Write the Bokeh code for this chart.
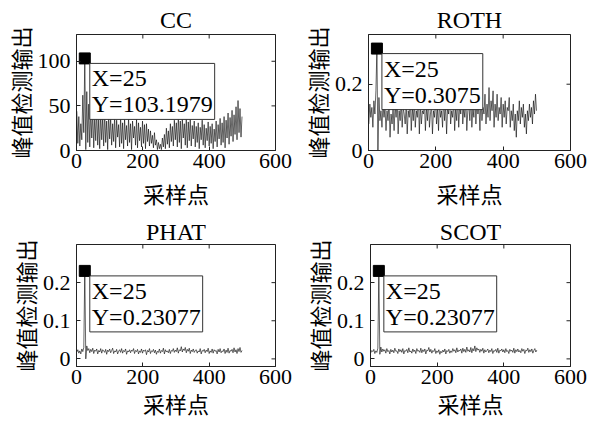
import math
from bokeh.plotting import figure
from bokeh.layouts import column, row
from bokeh.models import Range1d, Label, FixedTicker
from bokeh.embed import file_html
from bokeh.resources import INLINE

SERIF = "Liberation Serif"
CJK = "Noto Sans CJK SC"

sample_index = list(range(1, 500, 3))
panel_titles = ["CC", "ROTH", "PHAT", "SCOT"]
x_label = "采样点"
y_label = "峰值检测输出"

cc_values = [
    44, 8, 38, 5, 30, 12, 62, 20, 103.1979, 1,
    66, 9, 52, 4, 47, 14, 44, 3, 38, 11,
    46, 6, 35, 2, 41, 12, 37, 5, 43, 9,
    33, 1, 39, 13, 36, 6, 30, 10, 38, 3,
    34, 15, 29, 4, 37, 8, 31, 2, 35, 12,
    28, 5, 36, 9, 30, 1, 33, 14, 27, 6,
    35, 3, 31, 11, 26, 4, 33, 8, 29, 2,
    30, 10, 24, 5, 22, 8, 17, 3, 20, 6,
    12, 1, 9, 2, 7, 1, 14, 4, 18, 2,
    25, 7, 22, 3, 30, 10, 27, 5, 34, 12,
    31, 4, 38, 9, 33, 2, 36, 14, 30, 6,
    37, 3, 32, 11, 35, 5, 28, 13, 33, 4,
    27, 9, 31, 2, 26, 12, 34, 6, 29, 3,
    25, 11, 32, 5, 27, 8, 30, 2, 24, 10,
    33, 4, 29, 13, 36, 6, 31, 9, 38, 3,
    34, 14, 42, 7, 37, 16, 45, 10, 40, 18,
    49, 12, 56, 20, 47, 15, 38,
]
roth_values = [
    0.08, 0.14, 0.10, 0.13, 0.07, 0.15, 0.11, 0.18, 0.3075, 0.0,
    0.16, 0.09, 0.12, 0.07, 0.14, 0.10, 0.13, 0.06, 0.12, 0.09,
    0.15, 0.04, 0.11, 0.08, 0.13, 0.06, 0.14, 0.10, 0.16, 0.05,
    0.12, 0.09, 0.15, 0.07, 0.13, 0.11, 0.08, 0.14, 0.05, 0.12,
    0.10, 0.16, 0.06, 0.13, 0.09, 0.15, 0.07, 0.12, 0.10, 0.17,
    0.05, 0.14, 0.08, 0.12, 0.11, 0.15, 0.06, 0.13, 0.09, 0.16,
    0.07, 0.11, 0.14, 0.05, 0.12, 0.10, 0.17, 0.08, 0.13, 0.06,
    0.15, 0.10, 0.12, 0.07, 0.16, 0.09, 0.14, 0.05, 0.13, 0.11,
    0.17, 0.08, 0.12, 0.10, 0.15, 0.06, 0.13, 0.09, 0.16, 0.07,
    0.14, 0.11, 0.18, 0.08, 0.13, 0.10, 0.16, 0.06, 0.12, 0.14,
    0.09, 0.17, 0.07, 0.13, 0.10, 0.18, 0.08, 0.15, 0.11, 0.14,
    0.06, 0.16, 0.09, 0.13, 0.11, 0.17, 0.08, 0.14, 0.10, 0.19,
    0.09, 0.15, 0.12, 0.18, 0.07, 0.14, 0.10, 0.17, 0.09, 0.13,
    0.11, 0.16, 0.07, 0.14, 0.10, 0.15, 0.08, 0.13, 0.12, 0.16,
    0.07, 0.12, 0.09, 0.14, 0.06, 0.11, 0.04, 0.12, 0.09, 0.15,
    0.08, 0.13, 0.10, 0.14, 0.07, 0.11, 0.05, 0.12, 0.09, 0.14,
    0.10, 0.13, 0.08, 0.15, 0.11, 0.17, 0.12,
]
phat_values = [
    0.018, 0.024, 0.015, 0.021, 0.013, 0.026, 0.019, 0.030, 0.23077, 0.0,
    0.034, 0.022, 0.027, 0.016, 0.025, 0.019, 0.028, 0.014, 0.023, 0.020,
    0.026, 0.013, 0.022, 0.018, 0.027, 0.015, 0.024, 0.021, 0.017, 0.025,
    0.012, 0.023, 0.019, 0.026, 0.016, 0.022, 0.028, 0.014, 0.021, 0.018,
    0.025, 0.013, 0.020, 0.024, 0.017, 0.027, 0.015, 0.022, 0.019, 0.026,
    0.012, 0.021, 0.018, 0.024, 0.016, 0.023, 0.020, 0.027, 0.014, 0.022,
    0.019, 0.025, 0.013, 0.021, 0.017, 0.026, 0.015, 0.023, 0.020, 0.024,
    0.011, 0.022, 0.018, 0.027, 0.014, 0.021, 0.019, 0.025, 0.016, 0.023,
    0.012, 0.020, 0.017, 0.026, 0.015, 0.022, 0.019, 0.028, 0.013, 0.024,
    0.018, 0.021, 0.016, 0.025, 0.014, 0.022, 0.020, 0.027, 0.017, 0.023,
    0.019, 0.029, 0.015, 0.024, 0.021, 0.032, 0.018, 0.026, 0.022, 0.030,
    0.016, 0.025, 0.020, 0.028, 0.014, 0.023, 0.019, 0.026, 0.017, 0.022,
    0.024, 0.015, 0.021, 0.018, 0.027, 0.013, 0.022, 0.020, 0.025, 0.016,
    0.023, 0.019, 0.028, 0.014, 0.021, 0.017, 0.026, 0.015, 0.024, 0.020,
    0.022, 0.013, 0.025, 0.018, 0.027, 0.016, 0.021, 0.019, 0.026, 0.014,
    0.023, 0.017, 0.028, 0.015, 0.022, 0.020, 0.025, 0.016, 0.029, 0.018,
    0.024, 0.014, 0.027, 0.019, 0.030, 0.017, 0.022,
]
scot_values = [
    0.016, 0.022, 0.019, 0.025, 0.014, 0.021, 0.017, 0.028, 0.23077, 0.012,
    0.031, 0.018, 0.026, 0.020, 0.024, 0.015, 0.027, 0.019, 0.022, 0.013,
    0.025, 0.018, 0.023, 0.016, 0.028, 0.020, 0.021, 0.014, 0.026, 0.019,
    0.024, 0.017, 0.027, 0.013, 0.022, 0.020, 0.025, 0.016, 0.029, 0.018,
    0.021, 0.015, 0.026, 0.019, 0.023, 0.014, 0.027, 0.020, 0.022, 0.017,
    0.028, 0.016, 0.024, 0.019, 0.026, 0.013, 0.023, 0.021, 0.030, 0.018,
    0.025, 0.015, 0.022, 0.019, 0.027, 0.014, 0.021, 0.017, 0.024, 0.012,
    0.020, 0.016, 0.023, 0.018, 0.026, 0.013, 0.022, 0.019, 0.025, 0.015,
    0.021, 0.017, 0.027, 0.020, 0.024, 0.016, 0.029, 0.018, 0.023, 0.021,
    0.026, 0.015, 0.028, 0.019, 0.025, 0.017, 0.031, 0.020, 0.024, 0.018,
    0.030, 0.016, 0.027, 0.021, 0.034, 0.019, 0.029, 0.023, 0.026, 0.017,
    0.025, 0.020, 0.028, 0.015, 0.024, 0.018, 0.022, 0.026, 0.016, 0.023,
    0.019, 0.027, 0.014, 0.022, 0.020, 0.025, 0.017, 0.028, 0.015, 0.023,
    0.021, 0.026, 0.018, 0.024, 0.016, 0.027, 0.019, 0.022, 0.014, 0.025,
    0.020, 0.023, 0.017, 0.028, 0.015, 0.024, 0.019, 0.026, 0.018, 0.022,
    0.016, 0.027, 0.020, 0.025, 0.014, 0.023, 0.021, 0.028, 0.017, 0.024,
    0.019, 0.026, 0.015, 0.022, 0.027, 0.018, 0.023,
]

peak_x = [25, 25, 25, 25]
peak_y = [103.1979, 0.3075, 0.23077, 0.23077]
peak_text = ["103.1979", "0.3075", "0.23077", "0.23077"]

x_ticks = [0, 200, 400, 600]
x_tick_labels = ["0", "200", "400", "600"]
y_ticks = [[0, 50, 100], [0, 0.2], [0, 0.1, 0.2], [0, 0.1, 0.2]]
y_tick_labels = [["0", "50", "100"], ["0", "0.2"], ["0", "0.1", "0.2"], ["0", "0.1", "0.2"]]
y_limits = [(0, 130), (0, 0.35), (-0.02, 0.30), (-0.02, 0.30)]

AX = "#222222"


def style_axis(ax, ticks, labels):
    ax.ticker = FixedTicker(ticks=ticks)
    ax.major_label_overrides = {t: l for t, l in zip(ticks, labels)}
    ax.minor_tick_line_color = None
    ax.major_tick_in = 4
    ax.major_tick_out = 0
    ax.axis_line_color = AX
    ax.major_tick_line_color = AX
    ax.major_label_text_font = SERIF
    ax.major_label_text_color = "black"
    ax.major_label_text_font_size = "22px"


def make_panel(k, values, width, height, borders, xlabel_standoff, title_standoff):
    left, right, top, bottom = borders
    ylo, yhi = y_limits[k]
    p = figure(width=width, height=height, output_backend="svg", toolbar_location=None,
               x_range=Range1d(0, 600), y_range=Range1d(ylo, yhi),
               min_border_left=left, min_border_right=right,
               min_border_top=top, min_border_bottom=bottom,
               background_fill_color="white", border_fill_color="white")
    p.grid.visible = False
    p.outline_line_color = AX
    p.outline_line_width = 1

    p.title.text = panel_titles[k]
    p.title.align = "center"
    p.title.text_font = SERIF
    p.title.text_font_size = "24px"
    p.title.text_font_style = "normal"
    p.title.text_color = "black"
    p.title.standoff = title_standoff

    p.line(sample_index, values, line_color="black", line_width=0.6)
    p.scatter([peak_x[k]], [peak_y[k]], marker="square", size=11,
              fill_color="black", line_color="black")

    # inward ticks on the right and top edges of the box (half of each dash is clipped)
    p.scatter([600] * len(y_ticks[k]), y_ticks[k], marker="dash", size=8,
              line_color=AX, line_width=1)
    p.scatter(x_ticks, [yhi] * len(x_ticks), marker="dash", size=8, angle=math.pi / 2,
              line_color=AX, line_width=1)

    xa = p.xaxis[0]
    style_axis(xa, x_ticks, x_tick_labels)
    xa.major_label_standoff = 3
    xa.axis_label = x_label
    xa.axis_label_text_font = CJK
    xa.axis_label_text_font_size = "22px"
    xa.axis_label_text_font_style = "normal"
    xa.axis_label_text_color = "black"
    xa.axis_label_standoff = xlabel_standoff

    ya = p.yaxis[0]
    style_axis(ya, y_ticks[k], y_tick_labels[k])
    ya.major_label_standoff = 6
    ya.axis_label = y_label
    ya.axis_label_text_font = CJK
    ya.axis_label_text_font_size = "22px"
    ya.axis_label_text_font_style = "normal"
    ya.axis_label_text_color = "black"
    ya.axis_label_standoff = -1

    p.add_layout(Label(x=peak_x[k], y=peak_y[k], x_offset=5, y_offset=-5,
                       text="X=%d\nY=%s" % (peak_x[k], peak_text[k]),
                       text_align="left", text_baseline="top",
                       text_font=SERIF, text_font_size="24px", text_color="black",
                       text_line_height=1.0,
                       background_fill_color="white", border_line_color="#333333",
                       border_line_width=1, padding=2))
    return p


p1 = make_panel(0, cc_values, 295, 211, (76, 20, 34, 60), 6, 4)
p2 = make_panel(1, roth_values, 295, 211, (73, 20, 33, 60), 6, 4)
p3 = make_panel(2, phat_values, 295, 212, (76, 20, 33, 57), 0, 0)
p4 = make_panel(3, scot_values, 295, 212, (75, 20, 33, 57), 0, 0)

layout = column(row(p1, p2), row(p3, p4))
open("out.html", "w").write(file_html(layout, INLINE))
